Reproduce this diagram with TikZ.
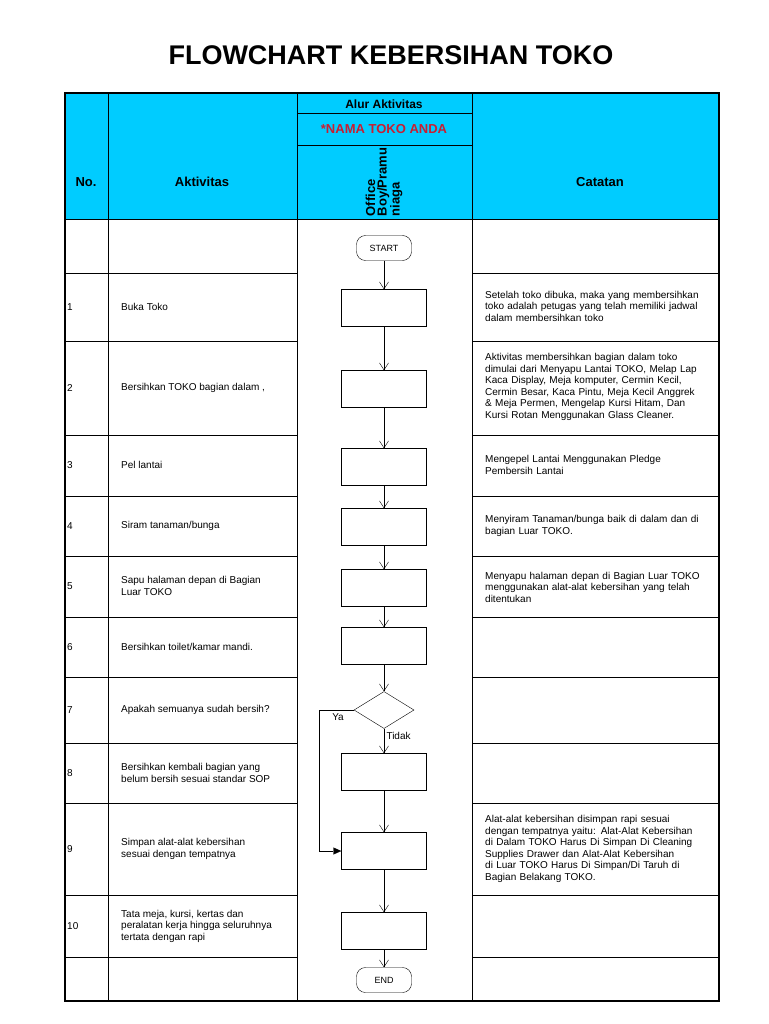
\documentclass[tikz,border=0pt]{standalone}
\usepackage{fontspec}
\setmainfont{Liberation Sans}
\usetikzlibrary{shapes.geometric,arrows.meta}
\definecolor{hdr}{RGB}{0,204,255}
\definecolor{red1}{RGB}{200,30,50}
\hyphenpenalty=10000 \exhyphenpenalty=10000
\begin{document}
\begin{tikzpicture}[x=1pt,y=-1pt,
  cell/.style={font=\fontsize{10}{11.5}\selectfont,anchor=west,align=left,inner sep=0},
  note/.style={font=\fontsize{10}{11.5}\selectfont,anchor=west,align=left,inner sep=0,text width=216pt},
  hd/.style={font=\bfseries\fontsize{13}{14}\selectfont},
  proc/.style={draw,minimum width=85pt,minimum height=37pt,inner sep=0},
  term/.style={draw,rounded corners=9pt,minimum width=55pt,minimum height=25pt,font=\fontsize{9}{10}\selectfont},
  dec/.style={draw,diamond,minimum width=60pt,minimum height=37pt,inner sep=0,aspect=1.6},
  arr/.style={-{Straight Barb[length=7pt,width=9pt]}},
  arrf/.style={-{Triangle[length=8pt,width=7pt]}}]
\useasboundingbox (0,0) rectangle (768,1024);
\node[font=\bfseries\fontsize{27}{30}\selectfont] (title) at (391,55) {FLOWCHART KEBERSIHAN TOKO};
\fill[hdr] (65,93) rectangle (719,220);
\draw[line width=1.2pt] (65,93) rectangle (719,1001);
\foreach \x in {108,297,472} \draw[line width=0.8pt] (\x,93) -- (\x,1001);
\draw[line width=0.8pt] (297,113) -- (472,113);
\draw[line width=0.8pt] (297,145) -- (472,145);
\draw[line width=1pt] (65,220) -- (719,220);
\foreach \y in {273,341,435,496,556,617,677,743,803,895,957}{
  \draw[line width=0.8pt] (65,\y) -- (297,\y); \draw[line width=0.8pt] (472,\y) -- (719,\y);}
\node[hd] (hno) at (86,182) {No.};
\node[hd] (hak) at (202,182) {Aktivitas};
\node[hd,font=\bfseries\fontsize{12}{13}\selectfont] (hal) at (384,104) {Alur Aktivitas};
\node[hd,text=red1,font=\bfseries\fontsize{13}{14}\selectfont] (hnm) at (384,129) {*NAMA TOKO ANDA};
\node[hd,rotate=90,align=left,font=\bfseries\fontsize{13}{11.5}\selectfont] (hob) at (384,182) {Office\\Boy/Pramu\\niaga};
\node[hd] (hct) at (600,182) {Catatan};
% numbers and activities
\foreach \y/\n/\t in {307/1/{Buka Toko}, 388/2/{Bersihkan TOKO bagian dalam ,}, 465/3/{Pel lantai}, 526/4/{Siram tanaman/bunga},
  586/5/{Sapu halaman depan di Bagian\\Luar TOKO}, 647/6/{Bersihkan toilet/kamar mandi.}, 710/7/{Apakah semuanya sudah bersih?},
  773/8/{Bersihkan kembali bagian yang\\belum bersih sesuai standar SOP}, 849/9/{Simpan alat-alat kebersihan\\sesuai dengan tempatnya},
  926/10/{Tata meja, kursi, kertas dan\\peralatan kerja hingga seluruhnya\\tertata dengan rapi}}{
  \node[cell] (n\n) at (67,\y) {\n};
  \node[cell] (a\n) at (121,\y) {\t};}
\node[note] (c1) at (485,306) {Setelah toko dibuka, maka yang membersihkan toko adalah petugas yang telah memiliki jadwal dalam membersihkan toko};
\node[note] (c2) at (485,387) {Aktivitas membersihkan bagian dalam toko dimulai dari Menyapu Lantai TOKO, Melap Lap Kaca Display, Meja komputer, Cermin Kecil, Cermin Besar, Kaca Pintu, Meja Kecil Anggrek \& Meja Permen, Mengelap Kursi Hitam, Dan Kursi Rotan Menggunakan Glass Cleaner.};
\node[note] (c3) at (485,465) {Mengepel Lantai Menggunakan Pledge\\Pembersih Lantai};
\node[note] (c4) at (485,526) {Menyiram Tanaman/bunga baik di dalam dan di bagian Luar TOKO.};
\node[note] (c5) at (485,587) {Menyapu halaman depan di Bagian Luar TOKO menggunakan alat-alat kebersihan yang telah ditentukan};
\node[note] (c9) at (485,849) {Alat-alat kebersihan disimpan rapi sesuai dengan tempatnya yaitu: Alat-Alat Kebersihan di Dalam TOKO Harus Di Simpan Di Cleaning Supplies Drawer dan Alat-Alat  Kebersihan di Luar TOKO Harus Di Simpan/Di Taruh di Bagian Belakang TOKO.};
% flowchart
\node[term] (st) at (384,248) {START};
\node[proc] (b1) at (384,308) {};
\node[proc] (b2) at (384,389) {};
\node[proc] (b3) at (384,467) {};
\node[proc] (b4) at (384,527) {};
\node[proc] (b5) at (384,588) {};
\node[proc] (b6) at (384,646) {};
\node[dec] (d7) at (384,710) {};
\node[proc] (b8) at (384,772) {};
\node[proc] (b9) at (384,851) {};
\node[proc] (b10) at (384,931) {};
\node[term] (en) at (384,980) {END};
\draw[arr] (st) -- (b1);
\draw[arr] (b1) -- (b2);
\draw[arr] (b2) -- (b3);
\draw[arr] (b3) -- (b4);
\draw[arr] (b4) -- (b5);
\draw[arr] (b5) -- (b6);
\draw[arr] (b6) -- (d7);
\draw[arr] (d7) -- node[pos=0.3,right=-1pt,font=\fontsize{10}{11}\selectfont]{Tidak} (b8);
\draw[arr] (b8) -- (b9);
\draw[arr] (b9) -- (b10);
\draw[arr] (b10) -- (en);
\coordinate (ya) at (319,710);
\draw[arrf] (d7.west) -- (ya) |- (b9.west);
\node[font=\fontsize{10}{11}\selectfont] (yal) at (338,717) {Ya};
\end{tikzpicture}
\end{document}
